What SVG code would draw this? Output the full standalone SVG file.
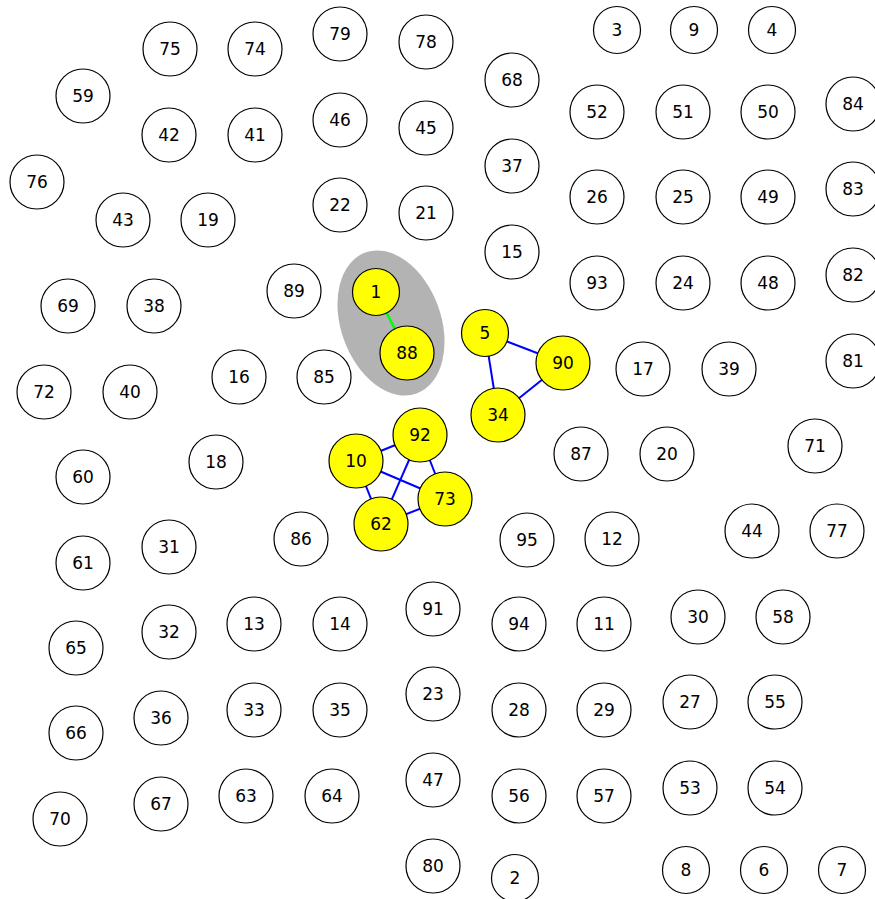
<svg xmlns="http://www.w3.org/2000/svg" width="875" height="899" viewBox="0 0 875 899">
<style>
.n circle{fill:#fff;stroke:#000;stroke-width:1.2}
.y circle{fill:#ff0;stroke:#000;stroke-width:1.2}
text{font-family:"DejaVu Sans",sans-serif;font-size:17px;text-anchor:middle;dominant-baseline:central;fill:#000}
.e{stroke:#00f;stroke-width:2}
.g{stroke:#0f0;stroke-width:2.5}
</style>
<rect width="875" height="899" fill="#fff"/>
<ellipse id="cluster" cx="391" cy="323" rx="50" ry="75" transform="rotate(-20 391 323)" fill="#b3b3b3"/>
<g id="edges">
<line class="g" x1="376" y1="292" x2="407" y2="353"/>
<line class="e" x1="485" y1="333" x2="563" y2="363"/>
<line class="e" x1="485" y1="333" x2="498" y2="415"/>
<line class="e" x1="498" y1="415" x2="563" y2="363"/>
<line class="e" x1="356" y1="461" x2="420" y2="435"/>
<line class="e" x1="356" y1="461" x2="445" y2="499"/>
<line class="e" x1="356" y1="461" x2="381" y2="524"/>
<line class="e" x1="420" y1="435" x2="381" y2="524"/>
<line class="e" x1="420" y1="435" x2="445" y2="499"/>
<line class="e" x1="381" y1="524" x2="445" y2="499"/>
</g>
<g id="n75" class="n"><circle cx="170" cy="49" r="27"/><text x="170" y="49">75</text></g>
<g id="n74" class="n"><circle cx="255" cy="49" r="27"/><text x="255" y="49">74</text></g>
<g id="n79" class="n"><circle cx="340" cy="34" r="27"/><text x="340" y="34">79</text></g>
<g id="n78" class="n"><circle cx="426" cy="42" r="27"/><text x="426" y="42">78</text></g>
<g id="n68" class="n"><circle cx="512" cy="80" r="27"/><text x="512" y="80">68</text></g>
<g id="n3" class="n"><circle cx="617" cy="30" r="23.5"/><text x="617" y="30">3</text></g>
<g id="n9" class="n"><circle cx="694" cy="30" r="23.5"/><text x="694" y="30">9</text></g>
<g id="n4" class="n"><circle cx="772" cy="30" r="23.5"/><text x="772" y="30">4</text></g>
<g id="n59" class="n"><circle cx="83" cy="96" r="27"/><text x="83" y="96">59</text></g>
<g id="n42" class="n"><circle cx="169" cy="135" r="27"/><text x="169" y="135">42</text></g>
<g id="n41" class="n"><circle cx="255" cy="135" r="27"/><text x="255" y="135">41</text></g>
<g id="n46" class="n"><circle cx="340" cy="120" r="27"/><text x="340" y="120">46</text></g>
<g id="n45" class="n"><circle cx="426" cy="128" r="27"/><text x="426" y="128">45</text></g>
<g id="n52" class="n"><circle cx="597" cy="112" r="27"/><text x="597" y="112">52</text></g>
<g id="n51" class="n"><circle cx="683" cy="112" r="27"/><text x="683" y="112">51</text></g>
<g id="n50" class="n"><circle cx="768" cy="112" r="27"/><text x="768" y="112">50</text></g>
<g id="n84" class="n"><circle cx="853" cy="104" r="27"/><text x="853" y="104">84</text></g>
<g id="n37" class="n"><circle cx="512" cy="166" r="27"/><text x="512" y="166">37</text></g>
<g id="n76" class="n"><circle cx="37" cy="182" r="27"/><text x="37" y="182">76</text></g>
<g id="n43" class="n"><circle cx="123" cy="220" r="27"/><text x="123" y="220">43</text></g>
<g id="n19" class="n"><circle cx="208" cy="220" r="27"/><text x="208" y="220">19</text></g>
<g id="n22" class="n"><circle cx="340" cy="205" r="27"/><text x="340" y="205">22</text></g>
<g id="n21" class="n"><circle cx="426" cy="213" r="27"/><text x="426" y="213">21</text></g>
<g id="n26" class="n"><circle cx="597" cy="197" r="27"/><text x="597" y="197">26</text></g>
<g id="n25" class="n"><circle cx="683" cy="197" r="27"/><text x="683" y="197">25</text></g>
<g id="n49" class="n"><circle cx="768" cy="197" r="27"/><text x="768" y="197">49</text></g>
<g id="n83" class="n"><circle cx="853" cy="189" r="27"/><text x="853" y="189">83</text></g>
<g id="n15" class="n"><circle cx="512" cy="252" r="27"/><text x="512" y="252">15</text></g>
<g id="n69" class="n"><circle cx="68" cy="306" r="27"/><text x="68" y="306">69</text></g>
<g id="n38" class="n"><circle cx="154" cy="306" r="27"/><text x="154" y="306">38</text></g>
<g id="n89" class="n"><circle cx="294" cy="291" r="27"/><text x="294" y="291">89</text></g>
<g id="n93" class="n"><circle cx="597" cy="283" r="27"/><text x="597" y="283">93</text></g>
<g id="n24" class="n"><circle cx="683" cy="283" r="27"/><text x="683" y="283">24</text></g>
<g id="n48" class="n"><circle cx="768" cy="283" r="27"/><text x="768" y="283">48</text></g>
<g id="n82" class="n"><circle cx="853" cy="275" r="27"/><text x="853" y="275">82</text></g>
<g id="n17" class="n"><circle cx="643" cy="369" r="27"/><text x="643" y="369">17</text></g>
<g id="n39" class="n"><circle cx="729" cy="369" r="27"/><text x="729" y="369">39</text></g>
<g id="n81" class="n"><circle cx="853" cy="361" r="27"/><text x="853" y="361">81</text></g>
<g id="n72" class="n"><circle cx="44" cy="392" r="27"/><text x="44" y="392">72</text></g>
<g id="n40" class="n"><circle cx="130" cy="392" r="27"/><text x="130" y="392">40</text></g>
<g id="n16" class="n"><circle cx="239" cy="377" r="27"/><text x="239" y="377">16</text></g>
<g id="n85" class="n"><circle cx="324" cy="377" r="27"/><text x="324" y="377">85</text></g>
<g id="n87" class="n"><circle cx="581" cy="454" r="27"/><text x="581" y="454">87</text></g>
<g id="n20" class="n"><circle cx="667" cy="454" r="27"/><text x="667" y="454">20</text></g>
<g id="n71" class="n"><circle cx="815" cy="446" r="27"/><text x="815" y="446">71</text></g>
<g id="n60" class="n"><circle cx="83" cy="477" r="27"/><text x="83" y="477">60</text></g>
<g id="n18" class="n"><circle cx="216" cy="462" r="27"/><text x="216" y="462">18</text></g>
<g id="n31" class="n"><circle cx="169" cy="547" r="27"/><text x="169" y="547">31</text></g>
<g id="n86" class="n"><circle cx="301" cy="539" r="27"/><text x="301" y="539">86</text></g>
<g id="n95" class="n"><circle cx="527" cy="540" r="27"/><text x="527" y="540">95</text></g>
<g id="n12" class="n"><circle cx="612" cy="539" r="27"/><text x="612" y="539">12</text></g>
<g id="n44" class="n"><circle cx="752" cy="531" r="27"/><text x="752" y="531">44</text></g>
<g id="n77" class="n"><circle cx="837" cy="531" r="27"/><text x="837" y="531">77</text></g>
<g id="n61" class="n"><circle cx="83" cy="563" r="27"/><text x="83" y="563">61</text></g>
<g id="n13" class="n"><circle cx="254" cy="624" r="27"/><text x="254" y="624">13</text></g>
<g id="n14" class="n"><circle cx="340" cy="624" r="27"/><text x="340" y="624">14</text></g>
<g id="n91" class="n"><circle cx="433" cy="609" r="27"/><text x="433" y="609">91</text></g>
<g id="n94" class="n"><circle cx="519" cy="624" r="27"/><text x="519" y="624">94</text></g>
<g id="n11" class="n"><circle cx="604" cy="624" r="27"/><text x="604" y="624">11</text></g>
<g id="n30" class="n"><circle cx="698" cy="617" r="27"/><text x="698" y="617">30</text></g>
<g id="n58" class="n"><circle cx="783" cy="617" r="27"/><text x="783" y="617">58</text></g>
<g id="n32" class="n"><circle cx="169" cy="632" r="27"/><text x="169" y="632">32</text></g>
<g id="n65" class="n"><circle cx="76" cy="648" r="27"/><text x="76" y="648">65</text></g>
<g id="n33" class="n"><circle cx="254" cy="710" r="27"/><text x="254" y="710">33</text></g>
<g id="n35" class="n"><circle cx="340" cy="710" r="27"/><text x="340" y="710">35</text></g>
<g id="n23" class="n"><circle cx="433" cy="694" r="27"/><text x="433" y="694">23</text></g>
<g id="n28" class="n"><circle cx="519" cy="710" r="27"/><text x="519" y="710">28</text></g>
<g id="n29" class="n"><circle cx="604" cy="710" r="27"/><text x="604" y="710">29</text></g>
<g id="n27" class="n"><circle cx="690" cy="702" r="27"/><text x="690" y="702">27</text></g>
<g id="n55" class="n"><circle cx="775" cy="702" r="27"/><text x="775" y="702">55</text></g>
<g id="n36" class="n"><circle cx="161" cy="718" r="27"/><text x="161" y="718">36</text></g>
<g id="n66" class="n"><circle cx="76" cy="733" r="27"/><text x="76" y="733">66</text></g>
<g id="n63" class="n"><circle cx="246" cy="796" r="27"/><text x="246" y="796">63</text></g>
<g id="n64" class="n"><circle cx="332" cy="796" r="27"/><text x="332" y="796">64</text></g>
<g id="n47" class="n"><circle cx="433" cy="780" r="27"/><text x="433" y="780">47</text></g>
<g id="n56" class="n"><circle cx="519" cy="796" r="27"/><text x="519" y="796">56</text></g>
<g id="n57" class="n"><circle cx="604" cy="796" r="27"/><text x="604" y="796">57</text></g>
<g id="n53" class="n"><circle cx="690" cy="788" r="27"/><text x="690" y="788">53</text></g>
<g id="n54" class="n"><circle cx="775" cy="788" r="27"/><text x="775" y="788">54</text></g>
<g id="n67" class="n"><circle cx="161" cy="804" r="27"/><text x="161" y="804">67</text></g>
<g id="n70" class="n"><circle cx="60" cy="819" r="27"/><text x="60" y="819">70</text></g>
<g id="n80" class="n"><circle cx="433" cy="866" r="27"/><text x="433" y="866">80</text></g>
<g id="n2" class="n"><circle cx="515" cy="878" r="23.5"/><text x="515" y="878">2</text></g>
<g id="n8" class="n"><circle cx="686" cy="870" r="23.5"/><text x="686" y="870">8</text></g>
<g id="n6" class="n"><circle cx="764" cy="870" r="23.5"/><text x="764" y="870">6</text></g>
<g id="n7" class="n"><circle cx="842" cy="870" r="23.5"/><text x="842" y="870">7</text></g>
<g id="n1" class="y"><circle cx="376" cy="292" r="23.5"/><text x="376" y="292">1</text></g>
<g id="n88" class="y"><circle cx="407" cy="353" r="27"/><text x="407" y="353">88</text></g>
<g id="n5" class="y"><circle cx="485" cy="333" r="23.5"/><text x="485" y="333">5</text></g>
<g id="n90" class="y"><circle cx="563" cy="363" r="27"/><text x="563" y="363">90</text></g>
<g id="n34" class="y"><circle cx="498" cy="415" r="27"/><text x="498" y="415">34</text></g>
<g id="n92" class="y"><circle cx="420" cy="435" r="27"/><text x="420" y="435">92</text></g>
<g id="n10" class="y"><circle cx="356" cy="461" r="27"/><text x="356" y="461">10</text></g>
<g id="n73" class="y"><circle cx="445" cy="499" r="27"/><text x="445" y="499">73</text></g>
<g id="n62" class="y"><circle cx="381" cy="524" r="27"/><text x="381" y="524">62</text></g>
</svg>
